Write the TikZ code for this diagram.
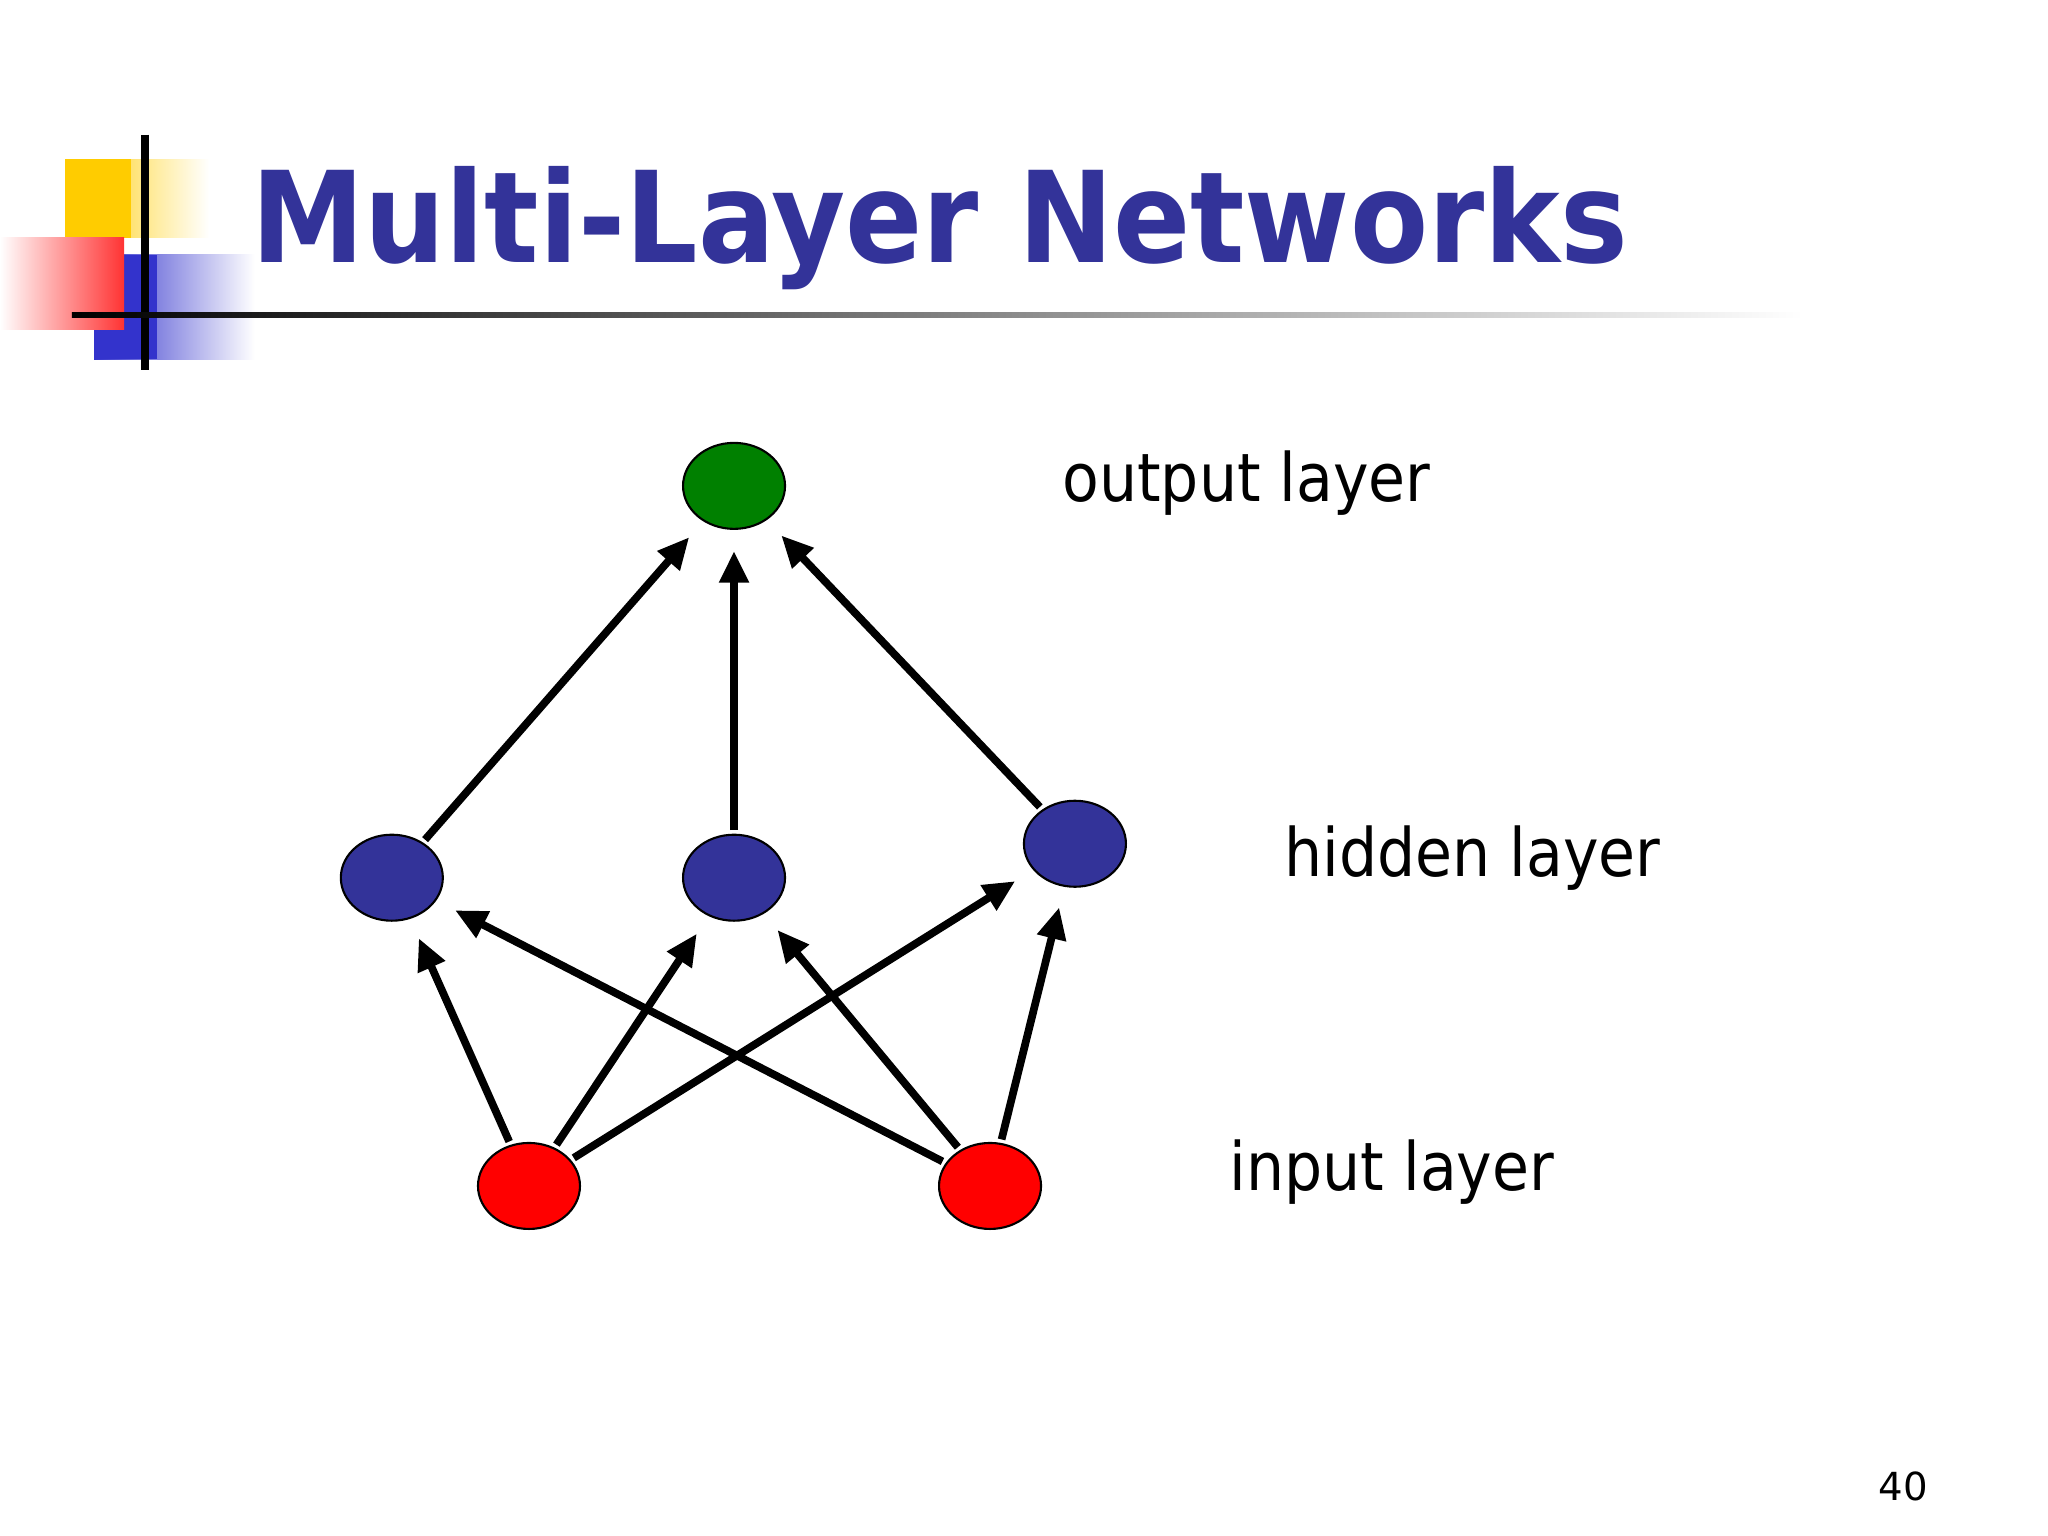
\documentclass[tikz,border=0pt]{standalone}
\usepackage{fontspec}
\setmainfont{DejaVu Sans}
\newfontfamily\condf{DejaVu Sans Condensed}
\usetikzlibrary{arrows.meta,shapes.geometric}
\definecolor{navy}{HTML}{333399}
\definecolor{nblue}{HTML}{333399}
\definecolor{ngreen}{HTML}{008000}
\definecolor{lblue}{HTML}{3333CC}
\definecolor{lyel}{HTML}{FFCC00}
\begin{document}
\begin{tikzpicture}[x=0.013061cm,y=-0.013061cm,
  n/.style={draw=black,line width=0.6pt,ellipse,minimum width=1.02cm,minimum height=0.86cm,inner sep=0pt},
  conn/.style={line width=2.2pt,-{Triangle[length=9pt,width=8pt]},shorten >=6pt,shorten <=1pt},
  lbl/.style={anchor=west,font=\condf\fontsize{19pt}{21pt}\selectfont,inner sep=0pt}]
\useasboundingbox (0,0) rectangle (1568,1176);
\fill[white] (0,0) rectangle (1568,1176);
% logo
\shade[left color=lyel,right color=white] (50,122) rectangle (160,182);
\fill[lyel] (50,122) rectangle (100,182);
\shade[left color=lblue,right color=white] (72,195) rectangle (195,275);
\fill[lblue] (72,195) rectangle (120,275);
\shade[left color=white,right color=red!80] (0,182) rectangle (95,252);
\draw[line width=2.5pt] (111,103) -- (111,283);
\shade[left color=black,right color=white] (55,239.5) rectangle (1380,243);
\node[anchor=west,inner sep=0pt,text=navy,font=\condf\bfseries\fontsize{36pt}{40pt}\selectfont] (title) at (192,175) {Multi-Layer Networks};
% nodes
\node[n,fill=ngreen] (o) at (562,372) {};
\node[n,fill=nblue] (h1) at (300,672) {};
\node[n,fill=nblue] (h2) at (562,672) {};
\node[n,fill=nblue] (h3) at (823,646) {};
\node[n,fill=red] (i1) at (405,908) {};
\node[n,fill=red] (i2) at (758,908) {};
\foreach \a/\b in {h1/o,h2/o,h3/o,i1/h1,i1/h2,i1/h3,i2/h1,i2/h2,i2/h3}
  \draw[conn] (\a) -- (\b);
\node[lbl] (lo) at (813,370) {output layer};
\node[lbl] (lh) at (983,657) {hidden layer};
\node[lbl] (li) at (941,897) {input layer};
\node[font=\fontsize{11pt}{12pt}\selectfont,inner sep=0pt] (pg) at (1457,1138) {40};
\end{tikzpicture}
\end{document}
